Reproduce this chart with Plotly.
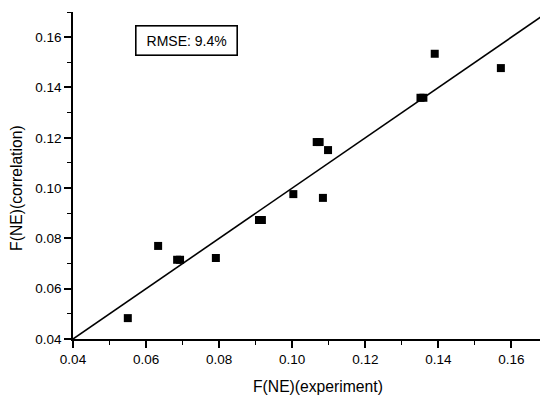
import plotly.graph_objects as go

# Data
exp_x = [0.0550, 0.0633, 0.0685, 0.0693, 0.0791, 0.0909, 0.0917, 0.1003, 0.1084,
         0.1067, 0.1075, 0.1098, 0.1351, 0.1359, 0.1390, 0.1571]
corr_y = [0.0483, 0.0770, 0.0715, 0.0715, 0.0722, 0.0873, 0.0873, 0.0976, 0.0961,
          0.1183, 0.1183, 0.1151, 0.1359, 0.1359, 0.1534, 0.1477]
diag = [0.04, 0.17]
rmse_text = "RMSE: 9.4%"
x_title = "F(NE)(experiment)"
y_title = "F(NE)(correlation)"

fig = go.Figure()
fig.add_trace(go.Scatter(x=diag, y=diag, mode="lines",
                         line=dict(color="black", width=1.6), hoverinfo="skip"))
fig.add_trace(go.Scatter(x=exp_x, y=corr_y, mode="markers",
                         marker=dict(symbol="square", size=8, color="black",
                                     line=dict(width=0))))

font = "Liberation Sans, Arial, sans-serif"
axis_common = dict(
    showline=True, linecolor="black", linewidth=1.6, mirror=False,
    showgrid=False, zeroline=False, automargin=False,
    ticks="outside", ticklen=7, tickwidth=1.6, tickcolor="black",
    tickformat=".2f", dtick=0.02, tick0=0.04,
    tickfont=dict(family=font, size=13.5, color="black"),
    minor=dict(ticks="outside", ticklen=4, tickwidth=1.4, tickcolor="black", dtick=0.01),
)

# page body has an 8px margin, so the figure is sized/offset to compensate
fig.update_layout(
    width=540, height=391,
    margin=dict(l=65, r=0, t=4, b=60),
    paper_bgcolor="white", plot_bgcolor="white",
    showlegend=False,
    xaxis=dict(range=[0.04, 0.17], **axis_common),
    yaxis=dict(range=[0.04, 0.17], **axis_common),
)

fig.add_annotation(xref="paper", yref="paper", x=0.516, y=-0.146,
                   xanchor="center", yanchor="middle", showarrow=False,
                   text=x_title, font=dict(family=font, size=15.7, color="black"))
fig.add_annotation(xref="paper", yref="paper", x=-0.118, y=0.462,
                   xanchor="center", yanchor="middle", showarrow=False, textangle=-90,
                   text=y_title, font=dict(family=font, size=15.7, color="black"))

fig.add_annotation(xref="paper", yref="paper", x=0.13, y=0.960,
                   xanchor="left", yanchor="top", showarrow=False,
                   text=rmse_text, font=dict(family=font, size=14, color="black"),
                   width=88, align="center",
                   bordercolor="black", borderwidth=1.6, borderpad=6, bgcolor="white")

fig.write_html("out.html")
